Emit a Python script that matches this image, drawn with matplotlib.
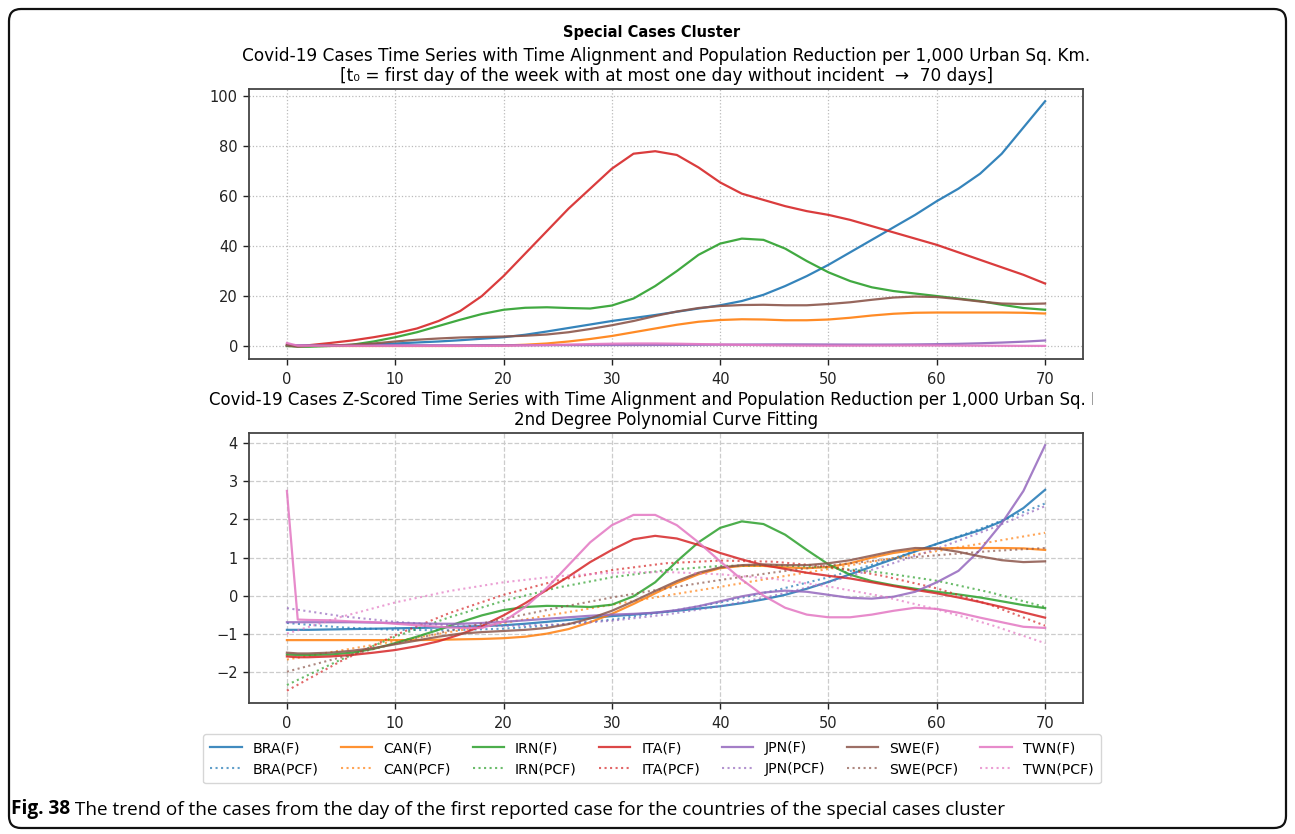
import numpy as np
import matplotlib
matplotlib.use("Agg")
import matplotlib.pyplot as plt
from matplotlib.patches import FancyBboxPatch
from matplotlib.text import Annotation
from matplotlib.transforms import Bbox, TransformedBbox, IdentityTransform

# ---------------------------------------------------------------- data
countries = ["BRA", "CAN", "IRN", "ITA", "JPN", "SWE", "TWN"]

# days since t0 for the daily series, and for the fitted curves
days = [0, 1] + list(range(2, 71, 2))
fit_days = list(range(0, 71, 5))

# cases per 1,000 urban sq. km
cases_bra = [0.0, 0.0, 0.0, 0.2, 0.4, 0.7, 1.0,
             1.4, 1.8, 2.3, 2.9, 3.5,
             4.5, 5.8, 7.2, 8.6, 10.0,
             11.2, 12.4, 13.7, 15.0, 16.3,
             18.0, 20.5, 24.0, 28.0, 32.5,
             37.5, 42.5, 47.5, 52.5, 58.0,
             63.0, 69.0, 77.0, 87.5, 98.0]
cases_can = [0.0, 0.0, 0.0, 0.0, 0.0, 0.0, 0.0,
             0.0, 0.0, 0.0, 0.1, 0.2,
             0.5, 1.0, 1.8, 2.8, 4.0,
             5.5, 7.0, 8.5, 9.7, 10.4,
             10.7, 10.6, 10.3, 10.3, 10.6,
             11.3, 12.2, 12.9, 13.3, 13.4,
             13.4, 13.4, 13.4, 13.3, 13.0]
cases_irn = [0.0, -0.2, -0.3, 0.0, 0.5, 1.8, 3.5,
             5.5, 8.0, 10.5, 12.8, 14.5,
             15.3, 15.5, 15.2, 15.0, 16.2,
             19.0, 24.0, 30.0, 36.5, 41.0,
             43.0, 42.5, 39.0, 34.0, 29.5,
             26.0, 23.5, 22.0, 21.0, 20.0,
             19.0, 18.0, 16.5, 15.2, 14.5]
cases_ita = [0.5, 0.0, 0.3, 1.2, 2.2, 3.5, 5.0,
             7.0, 10.0, 14.0, 20.0, 28.0,
             37.0, 46.0, 55.0, 63.0, 71.0,
             77.0, 78.0, 76.5, 71.5, 65.5,
             61.0, 58.5, 56.0, 54.0, 52.5,
             50.5, 48.0, 45.5, 43.0, 40.5,
             37.5, 34.5, 31.5, 28.5, 25.0]
cases_jpn = [0.3, 0.3, 0.3, 0.3, 0.3, 0.3, 0.3,
             0.29, 0.29, 0.29, 0.3, 0.31,
             0.32, 0.34, 0.36, 0.37, 0.39,
             0.39, 0.41, 0.43, 0.48, 0.53,
             0.58, 0.62, 0.64, 0.63, 0.6,
             0.57, 0.56, 0.58, 0.63, 0.73,
             0.86, 1.08, 1.37, 1.72, 2.2]
cases_swe = [0.3, -0.3, 0.0, 0.2, 0.5, 1.0, 1.8,
             2.5, 3.0, 3.4, 3.6, 3.8,
             4.1, 4.6, 5.5, 6.8, 8.3,
             10.0, 12.0, 13.8, 15.2, 16.0,
             16.4, 16.5, 16.3, 16.3, 16.8,
             17.5, 18.5, 19.4, 19.8, 19.6,
             18.8, 17.8, 17.0, 16.8, 17.0]
cases_twn = [1.2, 0.11, 0.1, 0.1, 0.09, 0.08, 0.07,
             0.06, 0.04, 0.035, 0.035, 0.09,
             0.21, 0.38, 0.57, 0.76, 0.91,
             1.0, 1.0, 0.91, 0.76, 0.6,
             0.45, 0.31, 0.21, 0.15, 0.125,
             0.125, 0.15, 0.18, 0.21, 0.2,
             0.16, 0.12, 0.08, 0.045, 0.035]

# z-scored series
z_bra = [-0.9, -0.9, -0.9, -0.89, -0.88, -0.87, -0.86,
         -0.85, -0.84, -0.82, -0.8, -0.78,
         -0.74, -0.69, -0.64, -0.59, -0.54,
         -0.5, -0.45, -0.4, -0.34, -0.28,
         -0.2, -0.1, 0.02, 0.18, 0.36,
         0.56, 0.76, 0.96, 1.16, 1.36,
         1.54, 1.72, 1.95, 2.3, 2.78]
z_can = [-1.17, -1.17, -1.17, -1.17, -1.17, -1.17, -1.17,
         -1.17, -1.16, -1.15, -1.14, -1.12,
         -1.08, -1.0, -0.88, -0.7, -0.48,
         -0.22, 0.06, 0.33, 0.56, 0.72,
         0.78, 0.78, 0.74, 0.72, 0.75,
         0.85, 1.0, 1.12, 1.2, 1.24,
         1.25, 1.25, 1.25, 1.24, 1.2]
z_irn = [-1.55, -1.56, -1.56, -1.55, -1.5, -1.4, -1.25,
         -1.08, -0.9, -0.7, -0.52, -0.38,
         -0.3, -0.27, -0.28, -0.3, -0.24,
         -0.02, 0.35, 0.9, 1.4, 1.78,
         1.95, 1.88, 1.6, 1.2, 0.82,
         0.55, 0.38, 0.27, 0.18, 0.1,
         0.03, -0.05, -0.15, -0.25, -0.33]
z_ita = [-1.6, -1.62, -1.62, -1.6, -1.56, -1.5, -1.43,
         -1.33, -1.2, -1.02, -0.8, -0.52,
         -0.2, 0.15, 0.5, 0.88, 1.2,
         1.48, 1.57, 1.5, 1.33, 1.12,
         0.95, 0.8, 0.7, 0.6, 0.52,
         0.45, 0.35, 0.25, 0.15, 0.06,
         -0.05, -0.17, -0.3, -0.44, -0.58]
z_jpn = [-0.7, -0.7, -0.7, -0.7, -0.7, -0.71, -0.72,
         -0.73, -0.74, -0.74, -0.72, -0.69,
         -0.65, -0.61, -0.57, -0.53, -0.5,
         -0.48, -0.45, -0.38, -0.28, -0.15,
         -0.02, 0.08, 0.13, 0.1, 0.02,
         -0.06, -0.08, -0.03, 0.1, 0.35,
         0.65, 1.2, 1.9, 2.75, 3.95]
z_swe = [-1.5, -1.52, -1.52, -1.5, -1.45, -1.38, -1.28,
         -1.18, -1.08, -1.0, -0.96, -0.93,
         -0.9, -0.85, -0.75, -0.6, -0.4,
         -0.15, 0.12, 0.38, 0.6, 0.74,
         0.8, 0.82, 0.8, 0.8, 0.85,
         0.93, 1.05, 1.17, 1.25, 1.24,
         1.15, 1.03, 0.93, 0.88, 0.9]
z_twn = [2.75, -0.63, -0.64, -0.65, -0.68, -0.7, -0.74,
         -0.78, -0.82, -0.85, -0.85, -0.68,
         -0.3, 0.2, 0.8, 1.4, 1.85,
         2.12, 2.12, 1.85, 1.4, 0.9,
         0.42, 0.0, -0.32, -0.5, -0.57,
         -0.57, -0.5, -0.4, -0.32, -0.35,
         -0.45, -0.58, -0.7, -0.82, -0.85]

# 2nd degree polynomial fits of the z-scored series
fit_bra = [-0.72, -0.835, -0.9, -0.91, -0.87, -0.77, -0.63, -0.43,
           -0.18, 0.13, 0.48, 0.89, 1.35, 1.86, 2.42]
fit_can = [-1.68, -1.44, -1.2, -0.96, -0.72, -0.48, -0.24, 0.0,
           0.23, 0.47, 0.7, 0.94, 1.17, 1.41, 1.65]
fit_irn = [-2.35, -1.68, -1.08, -0.57, -0.14, 0.21, 0.48, 0.67,
           0.78, 0.8, 0.74, 0.6, 0.39, 0.08, -0.3]
fit_ita = [-2.5, -1.72, -1.04, -0.46, 0.02, 0.4, 0.67, 0.85,
           0.92, 0.89, 0.76, 0.52, 0.19, -0.25, -0.79]
fit_jpn = [-0.33, -0.54, -0.69, -0.78, -0.8, -0.76, -0.66, -0.5,
           -0.28, 0.0, 0.35, 0.76, 1.23, 1.76, 2.35]
fit_swe = [-2.0, -1.62, -1.26, -0.92, -0.61, -0.32, -0.05, 0.19,
           0.41, 0.61, 0.79, 0.94, 1.06, 1.17, 1.25]
fit_twn = [-1.0, -0.56, -0.18, 0.12, 0.35, 0.51, 0.6, 0.62,
           0.56, 0.44, 0.24, -0.02, -0.36, -0.77, -1.25]

cases = [cases_bra, cases_can, cases_irn, cases_ita, cases_jpn, cases_swe, cases_twn]
zscores = [z_bra, z_can, z_irn, z_ita, z_jpn, z_swe, z_twn]
fits = [fit_bra, fit_can, fit_irn, fit_ita, fit_jpn, fit_swe, fit_twn]

colors = ["#1f77b4", "#ff7f0e", "#2ca02c", "#d62728",
          "#9467bd", "#8c564b", "#e377c2"]

title_top = ("Covid-19 Cases Time Series with Time Alignment and Population "
             "Reduction per 1,000 Urban Sq. Km.\n"
             "[t\u2080 = first day of the week with at most one day without "
             "incident  \u2192  70 days]")
title_bottom = ("Covid-19 Cases Z-Scored Time Series with Time Alignment and "
                "Population Reduction per 1,000 Urban Sq. Km.\n"
                "2nd Degree Polynomial Curve Fitting")
caption_head = "Fig. 38"
caption_body = (" The trend of the cases from the day of the first reported "
                "case for the countries of the special cases cluster")

# ---------------------------------------------------------------- figure
W, H = 1295, 834
plt.rcParams["font.family"] = ["DejaVu Sans"]
plt.rcParams["font.size"] = 10.5
plt.rcParams["axes.unicode_minus"] = True

fig = plt.figure(figsize=(W / 100, H / 100), dpi=100)
fig.patch.set_facecolor("white")


def px_axes(left, top, right, bottom):
    return fig.add_axes([left / W, 1 - bottom / H,
                         (right - left) / W, (bottom - top) / H])


ax1 = px_axes(249, 89, 1083, 359)
ax2 = px_axes(249, 433, 1083, 703)

for ax in (ax1, ax2):
    for sp in ax.spines.values():
        sp.set_color("#444444")
        sp.set_linewidth(1.3)
    ax.tick_params(colors="#222222", labelsize=10.5, length=4.5, width=1.0)
    ax.tick_params(axis="x", pad=4.5)
    ax.set_xticks(range(0, 71, 10))

# top panel: raw series
for vals, c in zip(cases, colors):
    ax1.plot(days, vals, color=c, lw=1.6, alpha=0.9)
ax1.set_yticks(range(0, 101, 20))
ax1.grid(True, linestyle=":", color="#bbbbbb", lw=0.9)
ax1.set_title(title_top, fontsize=12.2, pad=6, linespacing=1.15)

# bottom panel: z-scores and their polynomial fits
for name, zv, fv, c in zip(countries, zscores, fits, colors):
    ax2.plot(days, zv, color=c, lw=1.6, alpha=0.85, label=f"{name}(F)")
    ax2.plot(fit_days, fv, color=c, lw=1.5, ls=":", alpha=0.7,
             label=f"{name}(PCF)")
ax2.set_yticks(range(-2, 5))
ax2.grid(True, linestyle="--", color="#cccccc", lw=0.9)
t2 = ax2.set_title(title_bottom, fontsize=12.0, pad=6, linespacing=1.15)
t2.set_clip_box(TransformedBbox(Bbox([[0, 0], [1093 / W, 1]]), fig.transFigure))
t2.set_clip_on(True)

handles, labels = ax2.get_legend_handles_labels()
fig.legend(handles, labels, loc="upper center", ncol=7,
           bbox_to_anchor=(652 / W, 1 - 727 / H), fontsize=10.2,
           frameon=True, edgecolor="#cccccc", columnspacing=1.55,
           handlelength=2.2, borderpad=0.5)

fig.text(652 / W, 1 - 33 / H, "Special Cases Cluster", ha="center",
         va="center", fontsize=10.5, fontweight="bold")

# caption: bold figure number followed by the description
cap1 = fig.text(11 / W, 1 - 814 / H, caption_head, ha="left", va="baseline",
                fontsize=13.7, fontweight="bold", family="Open Sans")
fig.add_artist(Annotation(caption_body, xy=(1, 0), xycoords=cap1,
                          ha="left", va="bottom", fontsize=13.7,
                          family="Open Sans"))

# rounded frame around the figure
frame = FancyBboxPatch((9, 6), W - 18, H - 15,
                       boxstyle="round,pad=0,rounding_size=12",
                       transform=IdentityTransform(), fill=False,
                       ec="#111111", lw=1.6)
fig.add_artist(frame)

fig.savefig("out.png", dpi=100)
